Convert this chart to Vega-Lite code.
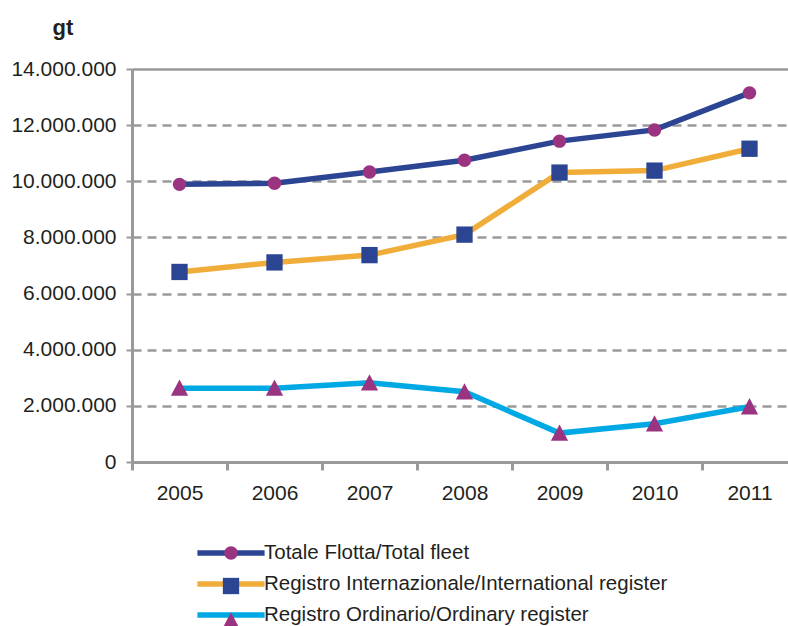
{
  "$schema": "https://vega.github.io/schema/vega-lite/v6.json",
  "width": 656,
  "height": 393,
  "autosize": {"type": "none"},
  "padding": {"left": 132, "top": 69, "right": 0, "bottom": 164},
  "background": "white",
  "config": {
    "view": {"stroke": null},
    "font": "Liberation Sans"
  },
  "data": {
    "values": [
      {"year": "2005", "series": "Totale Flotta/Total fleet", "gt": 9890000},
      {"year": "2006", "series": "Totale Flotta/Total fleet", "gt": 9930000},
      {"year": "2007", "series": "Totale Flotta/Total fleet", "gt": 10330000},
      {"year": "2008", "series": "Totale Flotta/Total fleet", "gt": 10750000},
      {"year": "2009", "series": "Totale Flotta/Total fleet", "gt": 11430000},
      {"year": "2010", "series": "Totale Flotta/Total fleet", "gt": 11830000},
      {"year": "2011", "series": "Totale Flotta/Total fleet", "gt": 13150000},
      {"year": "2005", "series": "Registro Internazionale/International register", "gt": 6770000},
      {"year": "2006", "series": "Registro Internazionale/International register", "gt": 7110000},
      {"year": "2007", "series": "Registro Internazionale/International register", "gt": 7370000},
      {"year": "2008", "series": "Registro Internazionale/International register", "gt": 8100000},
      {"year": "2009", "series": "Registro Internazionale/International register", "gt": 10310000},
      {"year": "2010", "series": "Registro Internazionale/International register", "gt": 10380000},
      {"year": "2011", "series": "Registro Internazionale/International register", "gt": 11160000},
      {"year": "2005", "series": "Registro Ordinario/Ordinary register", "gt": 2630000},
      {"year": "2006", "series": "Registro Ordinario/Ordinary register", "gt": 2630000},
      {"year": "2007", "series": "Registro Ordinario/Ordinary register", "gt": 2820000},
      {"year": "2008", "series": "Registro Ordinario/Ordinary register", "gt": 2500000},
      {"year": "2009", "series": "Registro Ordinario/Ordinary register", "gt": 1030000},
      {"year": "2010", "series": "Registro Ordinario/Ordinary register", "gt": 1360000},
      {"year": "2011", "series": "Registro Ordinario/Ordinary register", "gt": 1970000}
    ]
  },
  "encoding": {
    "x": {
      "field": "year",
      "type": "ordinal",
      "scale": {"type": "band", "range": [0, 665], "paddingInner": 0, "paddingOuter": 0},
      "axis": {
        "title": null,
        "labelAngle": 0,
        "labelFontSize": 21,
        "labelColor": "#231f20",
        "labelPadding": 12,
        "domainColor": "#9a9a9a",
        "domainWidth": 3,
        "tickColor": "#9a9a9a",
        "tickWidth": 3,
        "tickSize": 8,
        "tickBand": "extent",
        "grid": false
      }
    },
    "y": {
      "field": "gt",
      "type": "quantitative",
      "scale": {"domain": [0, 14000000], "nice": false},
      "axis": {
        "title": "gt",
        "titleAngle": 0,
        "titleAlign": "left",
        "titleBaseline": "alphabetic",
        "titleX": -80,
        "titleY": -35,
        "titleFontSize": 22,
        "titleFontWeight": "bold",
        "titleColor": "#231f20",
        "values": [0, 2000000, 4000000, 6000000, 8000000, 10000000, 12000000, 14000000],
        "labelExpr": "replace(format(datum.value, ',.0f'), /,/g, '.')",
        "labelFontSize": 21,
        "labelColor": "#231f20",
        "labelPadding": 10,
        "domainColor": "#9a9a9a",
        "domainWidth": 3,
        "tickColor": "#9a9a9a",
        "tickWidth": 2,
        "tickSize": 6,
        "grid": true,
        "gridColor": "#9a9a9a",
        "gridWidth": 2.5,
        "gridDash": {"condition": {"test": "datum.value === 14000000", "value": []}, "value": [9, 6]}
      }
    }
  },
  "layer": [
    {
      "mark": {"type": "line", "strokeWidth": 5.5},
      "encoding": {
        "color": {
          "field": "series",
          "type": "nominal",
          "scale": {
            "domain": ["Totale Flotta/Total fleet", "Registro Internazionale/International register", "Registro Ordinario/Ordinary register"],
            "range": ["#2b4593", "#f0ad3a", "#00a9e4"]
          },
          "legend": {
            "title": null,
            "orient": "none",
            "legendX": 84,
            "legendY": 469,
            "symbolType": "M-2.8,0H2.8",
            "symbolSize": 576,
            "symbolStrokeWidth": 5.5,
            "symbolFillColor": "transparent",
            "labelFontSize": 20.5,
            "labelColor": "#231f20",
            "labelOffset": 18,
            "rowPadding": 5,
            "labelLimit": 600
          }
        }
      }
    },
    {
      "mark": {"type": "point", "filled": true, "size": 576, "opacity": 1},
      "encoding": {
        "fill": {
          "field": "series",
          "type": "nominal",
          "sort": ["Totale Flotta/Total fleet", "Registro Internazionale/International register", "Registro Ordinario/Ordinary register"],
          "scale": {"range": ["#9b3480", "#2b4593", "#9b3480"]},
          "legend": null
        },
        "shape": {
          "field": "series",
          "type": "nominal",
          "sort": ["Totale Flotta/Total fleet", "Registro Internazionale/International register", "Registro Ordinario/Ordinary register"],
          "scale": {
            "range": [
              "M0.56,0A0.56,0.56 0 1,1 -0.56,0A0.56,0.56 0 1,1 0.56,0Z",
              "M-0.68,-0.68H0.68V0.68H-0.68Z",
              "M0,-0.72L0.72,0.64H-0.72Z"
            ]
          },
          "legend": {
            "title": null,
            "orient": "none",
            "legendX": 84,
            "legendY": 469,
            "symbolSize": 576,
            "symbolStrokeWidth": 5.5,
            "symbolStrokeColor": "transparent",
            "symbolFillColor": {"expr": "datum.value === 'Registro Internazionale/International register' ? '#2b4593' : '#9b3480'"},
            "labelFontSize": 20.5,
            "labelOffset": 18,
            "labelOpacity": 0,
            "rowPadding": -9,
            "labelLimit": 600
          }
        }
      }
    }
  ]
}
